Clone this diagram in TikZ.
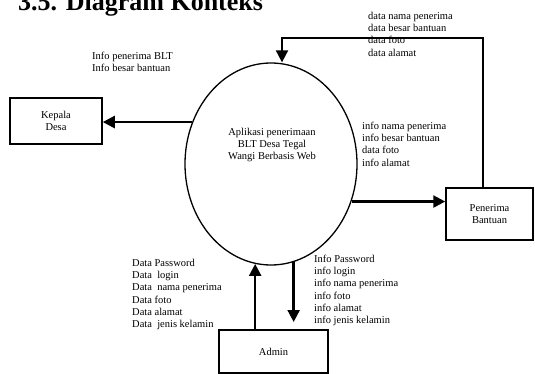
\documentclass[tikz,border=0pt]{standalone}
\usepackage{fontspec}
\setmainfont{Liberation Serif}
\usetikzlibrary{arrows.meta,shapes.geometric,positioning}

\begin{document}
\begin{tikzpicture}[x=1pt,y=-1pt,
    entity/.style={draw,line width=1.5pt,align=center,font=\fontsize{10.5}{12.5}\selectfont},
    flow/.style={line width=2.4pt,-{Triangle[length=12pt,width=12pt]}},
    lbl/.style={anchor=north west,inner sep=0pt,align=left,font=\fontsize{10.5}{12.2}\selectfont}]
    \useasboundingbox (0,0) rectangle (535,374);
    % Title
    \node[anchor=base west,inner sep=0pt,font=\fontsize{26}{30}\selectfont\bfseries] (title) at (18,11) {3.5. Diagram Konteks};
    % Process
    \node[draw,ellipse,line width=1.3pt,minimum width=172pt,minimum height=202pt] (app) at (271,164) {};
    \node[align=center,inner sep=0pt,font=\fontsize{10.5}{12}\selectfont] (appname) at (272,145) {Aplikasi penerimaan\\BLT Desa Tegal\\Wangi Berbasis Web};
    % External entities
    \node[entity,minimum width=92pt,minimum height=46pt] (kd) at (56,121) {Kepala\\Desa};
    \node[entity,minimum width=87pt,minimum height=52pt] (pb) at (489.5,214) {Penerima\\Bantuan};
    \node[entity,minimum width=109pt,minimum height=43pt] (ad) at (273.5,351.5) {Admin};
    % Data flows
    \draw[flow] (app.152) -- (app.152 -| kd.east);
    \draw[flow] (app.-25.5) -- (app.-25.5 -| pb.west);
    \coordinate (fb) at (282,38);
    \draw[flow,line width=2pt] ([xshift=-6.5pt]pb.north) |- (fb) -- (fb |- app.north);
    \draw[flow] (ad.north -| app.-99) -- (app.-99);
    \coordinate (dtip) at (0,322);
    \draw[flow] (app.-77) -- (app.-77 |- dtip);
    % Flow labels
    \node[lbl] (kdflow) at (92,52) {Info penerima BLT\\Info besar bantuan};
    \node[lbl] (pbdata) at (368,12) {data nama penerima\\data besar bantuan\\data foto\\data alamat};
    \node[lbl] (pbinfo) at (362,122) {info nama penerima\\info besar bantuan\\data foto\\info alamat};
    \node[lbl] (addata) at (132,259) {Data Password\\Data\ \ login\\Data\ \ nama penerima\\Data foto\\Data alamat\\Data\ \ jenis kelamin};
    \node[lbl] (adinfo) at (314,255) {Info Password\\info login\\info nama penerima\\info foto\\info alamat\\info jenis kelamin};
\end{tikzpicture}
\end{document}
